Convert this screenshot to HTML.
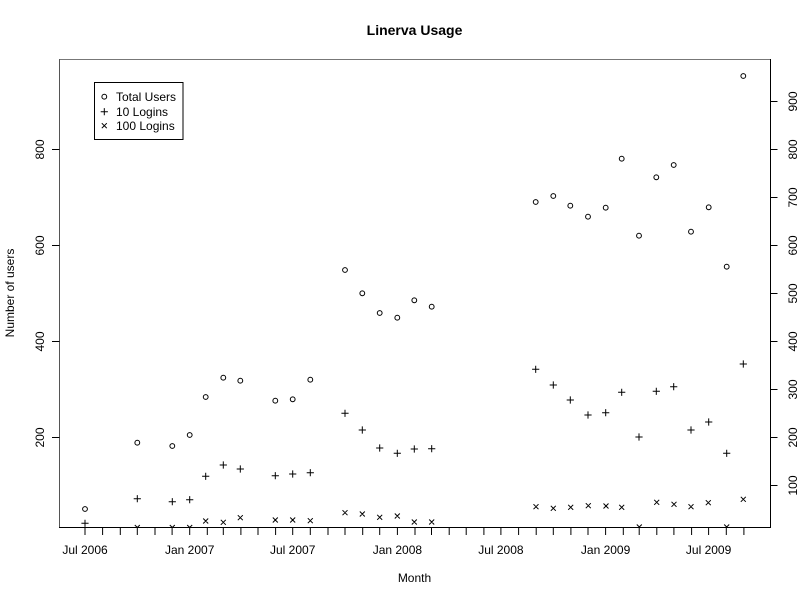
<!DOCTYPE html>
<html>
<head>
<meta charset="utf-8">
<style>
html,body{margin:0;padding:0;background:#fff;}
svg{display:block;}
text{font-family:"Liberation Sans",sans-serif;fill:#000;}
</style>
</head>
<body>
<svg width="800" height="600" viewBox="0 0 800 600" xmlns="http://www.w3.org/2000/svg">
<defs>
<clipPath id="pc"><rect x="59" y="59" width="711.5" height="468.5"/></clipPath>
</defs>
<rect width="800" height="600" fill="#fff"/>

<!-- title -->
<text x="414.5" y="35" font-size="14" font-weight="bold" text-anchor="middle">Linerva Usage</text>

<!-- frame -->
<line x1="59" y1="59.5" x2="770.5" y2="59.5" stroke="#777" stroke-width="1"/>
<line x1="59.5" y1="59" x2="59.5" y2="527.5" stroke="#555" stroke-width="1"/>
<line x1="59" y1="527.5" x2="771" y2="527.5" stroke="#000" stroke-width="1"/>
<line x1="770.5" y1="59" x2="770.5" y2="528" stroke="#000" stroke-width="1"/>

<!-- left axis ticks -->
<g stroke="#000" stroke-width="1">
<line x1="52" y1="437.5" x2="59.5" y2="437.5"/>
<line x1="52" y1="341.5" x2="59.5" y2="341.5"/>
<line x1="52" y1="245.5" x2="59.5" y2="245.5"/>
<line x1="52" y1="149.5" x2="59.5" y2="149.5"/>
</g>
<g font-size="12" text-anchor="middle">
<text transform="translate(44,437.5) rotate(-90)">200</text>
<text transform="translate(44,341.5) rotate(-90)">400</text>
<text transform="translate(44,245.5) rotate(-90)">600</text>
<text transform="translate(44,149.5) rotate(-90)">800</text>
</g>

<!-- right axis ticks -->
<g stroke="#000" stroke-width="1">
<line x1="770.5" y1="485.5" x2="777.5" y2="485.5"/>
<line x1="770.5" y1="437.5" x2="777.5" y2="437.5"/>
<line x1="770.5" y1="389.5" x2="777.5" y2="389.5"/>
<line x1="770.5" y1="341.5" x2="777.5" y2="341.5"/>
<line x1="770.5" y1="293.5" x2="777.5" y2="293.5"/>
<line x1="770.5" y1="245.5" x2="777.5" y2="245.5"/>
<line x1="770.5" y1="197.5" x2="777.5" y2="197.5"/>
<line x1="770.5" y1="149.5" x2="777.5" y2="149.5"/>
<line x1="770.5" y1="101.5" x2="777.5" y2="101.5"/>
</g>
<g font-size="12" text-anchor="middle">
<text transform="translate(797,485.5) rotate(-90)">100</text>
<text transform="translate(797,437.5) rotate(-90)">200</text>
<text transform="translate(797,389.5) rotate(-90)">300</text>
<text transform="translate(797,341.5) rotate(-90)">400</text>
<text transform="translate(797,293.5) rotate(-90)">500</text>
<text transform="translate(797,245.5) rotate(-90)">600</text>
<text transform="translate(797,197.5) rotate(-90)">700</text>
<text transform="translate(797,149.5) rotate(-90)">800</text>
<text transform="translate(797,101.5) rotate(-90)">900</text>
</g>

<!-- bottom axis ticks (monthly) -->
<g stroke="#000" stroke-width="1">
<line x1="85" y1="527" x2="85" y2="535"/>
<line x1="102.6" y1="527" x2="102.6" y2="535"/>
<line x1="120.3" y1="527" x2="120.3" y2="535"/>
<line x1="137.3" y1="527" x2="137.3" y2="535"/>
<line x1="155" y1="527" x2="155" y2="535"/>
<line x1="172.1" y1="527" x2="172.1" y2="535"/>
<line x1="189.7" y1="527" x2="189.7" y2="535"/>
<line x1="207.3" y1="527" x2="207.3" y2="535"/>
<line x1="223.3" y1="527" x2="223.3" y2="535"/>
<line x1="240.9" y1="527" x2="240.9" y2="535"/>
<line x1="258" y1="527" x2="258" y2="535"/>
<line x1="275.6" y1="527" x2="275.6" y2="535"/>
<line x1="292.7" y1="527" x2="292.7" y2="535"/>
<line x1="310.3" y1="527" x2="310.3" y2="535"/>
<line x1="328" y1="527" x2="328" y2="535"/>
<line x1="345" y1="527" x2="345" y2="535"/>
<line x1="362.7" y1="527" x2="362.7" y2="535"/>
<line x1="379.7" y1="527" x2="379.7" y2="535"/>
<line x1="397.4" y1="527" x2="397.4" y2="535"/>
<line x1="415" y1="527" x2="415" y2="535"/>
<line x1="431.5" y1="527" x2="431.5" y2="535"/>
<line x1="449.2" y1="527" x2="449.2" y2="535"/>
<line x1="466.2" y1="527" x2="466.2" y2="535"/>
<line x1="483.9" y1="527" x2="483.9" y2="535"/>
<line x1="500.9" y1="527" x2="500.9" y2="535"/>
<line x1="518.6" y1="527" x2="518.6" y2="535"/>
<line x1="536.2" y1="527" x2="536.2" y2="535"/>
<line x1="553.3" y1="527" x2="553.3" y2="535"/>
<line x1="570.9" y1="527" x2="570.9" y2="535"/>
<line x1="588" y1="527" x2="588" y2="535"/>
<line x1="605.6" y1="527" x2="605.6" y2="535"/>
<line x1="623.3" y1="527" x2="623.3" y2="535"/>
<line x1="639.2" y1="527" x2="639.2" y2="535"/>
<line x1="656.8" y1="527" x2="656.8" y2="535"/>
<line x1="673.9" y1="527" x2="673.9" y2="535"/>
<line x1="691.6" y1="527" x2="691.6" y2="535"/>
<line x1="708.6" y1="527" x2="708.6" y2="535"/>
<line x1="726.3" y1="527" x2="726.3" y2="535"/>
<line x1="743.9" y1="527" x2="743.9" y2="535"/>
</g>
<g font-size="12" text-anchor="middle">
<text x="85" y="554">Jul 2006</text>
<text x="189.7" y="554">Jan 2007</text>
<text x="292.7" y="554">Jul 2007</text>
<text x="397.4" y="554">Jan 2008</text>
<text x="500.9" y="554">Jul 2008</text>
<text x="605.6" y="554">Jan 2009</text>
<text x="708.6" y="554">Jul 2009</text>
</g>

<!-- axis titles -->
<text x="414.5" y="582" font-size="12" text-anchor="middle">Month</text>
<text transform="translate(14,293) rotate(-90)" font-size="12" text-anchor="middle">Number of users</text>

<!-- data -->
<g clip-path="url(#pc)" fill="none" stroke="#000" stroke-width="1">
<!-- Total users: circles -->
<g>
<circle cx="85" cy="509" r="2.4"/>
<circle cx="137.3" cy="442.7" r="2.4"/>
<circle cx="172.3" cy="446" r="2.4"/>
<circle cx="189.7" cy="435" r="2.4"/>
<circle cx="205.7" cy="397" r="2.4"/>
<circle cx="223.3" cy="377.7" r="2.4"/>
<circle cx="240.3" cy="380.7" r="2.4"/>
<circle cx="275.3" cy="400.7" r="2.4"/>
<circle cx="292.7" cy="399.3" r="2.4"/>
<circle cx="310.3" cy="379.7" r="2.4"/>
<circle cx="345" cy="270" r="2.4"/>
<circle cx="362.3" cy="293.3" r="2.4"/>
<circle cx="379.7" cy="313" r="2.4"/>
<circle cx="397.3" cy="317.7" r="2.4"/>
<circle cx="414.3" cy="300.3" r="2.4"/>
<circle cx="431.7" cy="306.7" r="2.4"/>
<circle cx="535.7" cy="202" r="2.4"/>
<circle cx="553.3" cy="196" r="2.4"/>
<circle cx="570.3" cy="205.7" r="2.4"/>
<circle cx="588" cy="216.7" r="2.4"/>
<circle cx="605.7" cy="207.7" r="2.4"/>
<circle cx="621.7" cy="158.7" r="2.4"/>
<circle cx="639" cy="235.7" r="2.4"/>
<circle cx="656.3" cy="177.3" r="2.4"/>
<circle cx="673.7" cy="165" r="2.4"/>
<circle cx="691" cy="231.7" r="2.4"/>
<circle cx="708.7" cy="207.3" r="2.4"/>
<circle cx="726.7" cy="266.7" r="2.4"/>
<circle cx="743.3" cy="76" r="2.4"/>
</g>
<!-- 10 logins: plus -->
<path d="
M81.4 523.3h7.2M85 519.7v7.2
M133.7 498.7h7.2M137.3 495.1v7.2
M168.7 501.7h7.2M172.3 498.1v7.2
M186.1 499.7h7.2M189.7 496.1v7.2
M202.1 476.3h7.2M205.7 472.7v7.2
M219.7 465h7.2M223.3 461.4v7.2
M236.7 469h7.2M240.3 465.4v7.2
M271.7 475.7h7.2M275.3 472.1v7.2
M289.1 474h7.2M292.7 470.4v7.2
M306.7 472.7h7.2M310.3 469.1v7.2
M341.4 413.3h7.2M345 409.7v7.2
M358.7 430h7.2M362.3 426.4v7.2
M376.1 448h7.2M379.7 444.4v7.2
M393.7 453.3h7.2M397.3 449.7v7.2
M410.7 449h7.2M414.3 445.4v7.2
M428.1 448.7h7.2M431.7 445.1v7.2
M532.1 369.3h7.2M535.7 365.7v7.2
M549.7 385h7.2M553.3 381.4v7.2
M566.7 400h7.2M570.3 396.4v7.2
M584.4 415h7.2M588 411.4v7.2
M602.1 412.7h7.2M605.7 409.1v7.2
M618.1 392.3h7.2M621.7 388.7v7.2
M635.4 437h7.2M639 433.4v7.2
M652.7 391.3h7.2M656.3 387.7v7.2
M670.1 386.7h7.2M673.7 383.1v7.2
M687.4 430h7.2M691 426.4v7.2
M705.1 422h7.2M708.7 418.4v7.2
M723.1 453.3h7.2M726.7 449.7v7.2
M739.7 364h7.2M743.3 360.4v7.2
"/>
<!-- 100 logins: cross -->
<path d="
M134.8 525l5 5M134.8 530l5 -5
M169.8 525l5 5M169.8 530l5 -5
M187.2 525l5 5M187.2 530l5 -5
M203.2 518.5l5 5M203.2 523.5l5 -5
M220.8 519.8l5 5M220.8 524.8l5 -5
M237.8 515.2l5 5M237.8 520.2l5 -5
M272.8 517.5l5 5M272.8 522.5l5 -5
M290.2 517.5l5 5M290.2 522.5l5 -5
M307.8 518.2l5 5M307.8 523.2l5 -5
M342.5 510.2l5 5M342.5 515.2l5 -5
M359.8 511.5l5 5M359.8 516.5l5 -5
M377.2 514.8l5 5M377.2 519.8l5 -5
M394.8 513.5l5 5M394.8 518.5l5 -5
M411.8 519.5l5 5M411.8 524.5l5 -5
M429.2 519.5l5 5M429.2 524.5l5 -5
M533.5 504.2l5 5M533.5 509.2l5 -5
M550.8 505.8l5 5M550.8 510.8l5 -5
M568.2 504.8l5 5M568.2 509.8l5 -5
M585.8 503.2l5 5M585.8 508.2l5 -5
M603.5 503.5l5 5M603.5 508.5l5 -5
M619.2 504.8l5 5M619.2 509.8l5 -5
M636.8 524.5l5 5M636.8 529.5l5 -5
M654.2 499.8l5 5M654.2 504.8l5 -5
M671.5 501.8l5 5M671.5 506.8l5 -5
M688.5 504.2l5 5M688.5 509.2l5 -5
M705.8 500.2l5 5M705.8 505.2l5 -5
M724.2 524.5l5 5M724.2 529.5l5 -5
M740.8 496.8l5 5M740.8 501.8l5 -5
"/>
</g>

<!-- legend -->
<rect x="94.5" y="82.5" width="88.5" height="57" fill="#fff" stroke="#000" stroke-width="1"/>
<circle cx="104.3" cy="96.7" r="2.4" fill="none" stroke="#000" stroke-width="1"/>
<path d="M100.7 111.7h7.2M104.3 108.1v7.2M101.8 123.2l5 5M101.8 128.2l5 -5" stroke="#000" stroke-width="1" fill="none"/>
<g font-size="12">
<text x="116" y="101">Total Users</text>
<text x="116" y="116">10 Logins</text>
<text x="116" y="130">100 Logins</text>
</g>
</svg>
</body>
</html>
